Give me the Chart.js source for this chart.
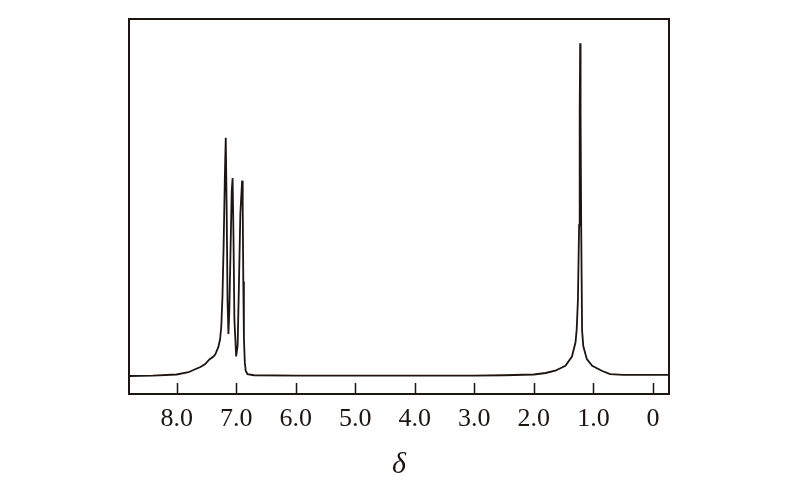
<!DOCTYPE html>
<html>
<head>
<meta charset="utf-8">
<script src="https://cdn.jsdelivr.net/npm/chart.js@4.4.0/dist/chart.umd.min.js"></script>
<style>
    html, body { margin: 0; padding: 0; background: #fff; }
    #wrap { width: 800px; height: 493px; position: relative; }
</style>
</head>
<body>
<div id="wrap"><canvas id="nmr"></canvas></div>
<script>
// chemical shift (ppm) and relative intensity
var shifts = [
    8.80, 8.40, 8.00, 7.80, 7.69, 7.60, 7.52, 7.45, 7.38, 7.35, 7.30, 7.27, 7.25, 7.23, 7.21, 7.19,
    7.175, 7.16, 7.145, 7.13, 7.115, 7.095, 7.075, 7.06, 7.045, 7.03, 7.00, 6.975, 6.955, 6.93,
    6.90, 6.89, 6.88, 6.87, 6.855, 6.84, 6.81, 6.70, 6.00, 5.00, 4.00, 3.00, 2.50, 2.00, 1.80,
    1.64, 1.47, 1.36, 1.30, 1.28, 1.26, 1.24, 1.23, 1.222, 1.215, 1.205, 1.19, 1.17, 1.11,
    1.02, 0.86, 0.72, 0.50, 0.20, -0.27
];
var intensities = [
    0.048, 0.049, 0.052, 0.058, 0.066, 0.072, 0.080, 0.092, 0.100, 0.106, 0.125, 0.146, 0.180, 0.260, 0.400, 0.580,
    0.683, 0.500, 0.250, 0.160, 0.220, 0.380, 0.540, 0.576, 0.420, 0.200, 0.100, 0.130, 0.280, 0.480,
    0.569, 0.500, 0.300, 0.150, 0.085, 0.062, 0.053, 0.050, 0.049, 0.049, 0.049, 0.049, 0.050, 0.052, 0.056,
    0.062, 0.075, 0.100, 0.138, 0.173, 0.250, 0.450, 0.750, 0.935, 0.750, 0.450, 0.170, 0.128, 0.093,
    0.075, 0.062, 0.053, 0.051, 0.051, 0.051
];
var tickValues = [8, 7, 6, 5, 4, 3, 2, 1, 0];
var tickLabels = ['8.0', '7.0', '6.0', '5.0', '4.0', '3.0', '2.0', '1.0', '0'];

var ink = '#1c1512';

var points = shifts.map(function (s, i) {
    return { x: s, y: intensities[i] };
});

// frame round the plot and short inward ticks on the bottom edge
var framePlugin = {
    id: 'frame',
    afterDraw: function (chart) {
        var ctx = chart.ctx;
        var area = chart.chartArea;
        var xs = chart.scales.x;
        ctx.save();
        ctx.strokeStyle = ink;
        ctx.lineWidth = 2;
        ctx.strokeRect(area.left, area.top, area.right - area.left, area.bottom - area.top);
        ctx.lineWidth = 1.5;
        tickValues.forEach(function (v) {
            var px = Math.round(xs.getPixelForValue(v)) + 0.5;
            ctx.beginPath();
            ctx.moveTo(px, area.bottom);
            ctx.lineTo(px, area.bottom - 11);
            ctx.stroke();
        });
        ctx.restore();
    }
};

var ctx = document.getElementById('nmr').getContext('2d');
var chart = new Chart(ctx, {
    type: 'line',
    data: {
        datasets: [{
            data: points,
            borderColor: ink,
            borderWidth: 1.8,
            pointRadius: 0,
            tension: 0,
            fill: false
        }]
    },
    options: {
        responsive: true,
        maintainAspectRatio: false,
        animation: false,
        layout: {
            padding: { left: 129, right: 131, top: 19, bottom: 0 }
        },
        scales: {
            x: {
                type: 'linear',
                reverse: true,
                min: -0.27,
                max: 8.8,
                afterFit: function (scale) {
                    scale.height = 99;
                },
                afterBuildTicks: function (scale) {
                    scale.ticks = tickValues.map(function (v) { return { value: v }; });
                },
                grid: { display: false, drawTicks: false },
                border: { display: false },
                ticks: {
                    autoSkip: false,
                    maxRotation: 0,
                    padding: 10,
                    color: ink,
                    font: { family: 'Liberation Serif', size: 26 },
                    callback: function (value) {
                        return tickLabels[tickValues.indexOf(value)];
                    }
                },
                title: {
                    display: true,
                    text: 'δ',
                    color: ink,
                    padding: 10,
                    font: { family: 'Liberation Serif', size: 30, style: 'italic' }
                }
            },
            y: {
                display: false,
                min: 0,
                max: 1
            }
        },
        plugins: {
            legend: { display: false },
            tooltip: { enabled: false }
        }
    },
    plugins: [framePlugin]
});
</script>
</body>
</html>
